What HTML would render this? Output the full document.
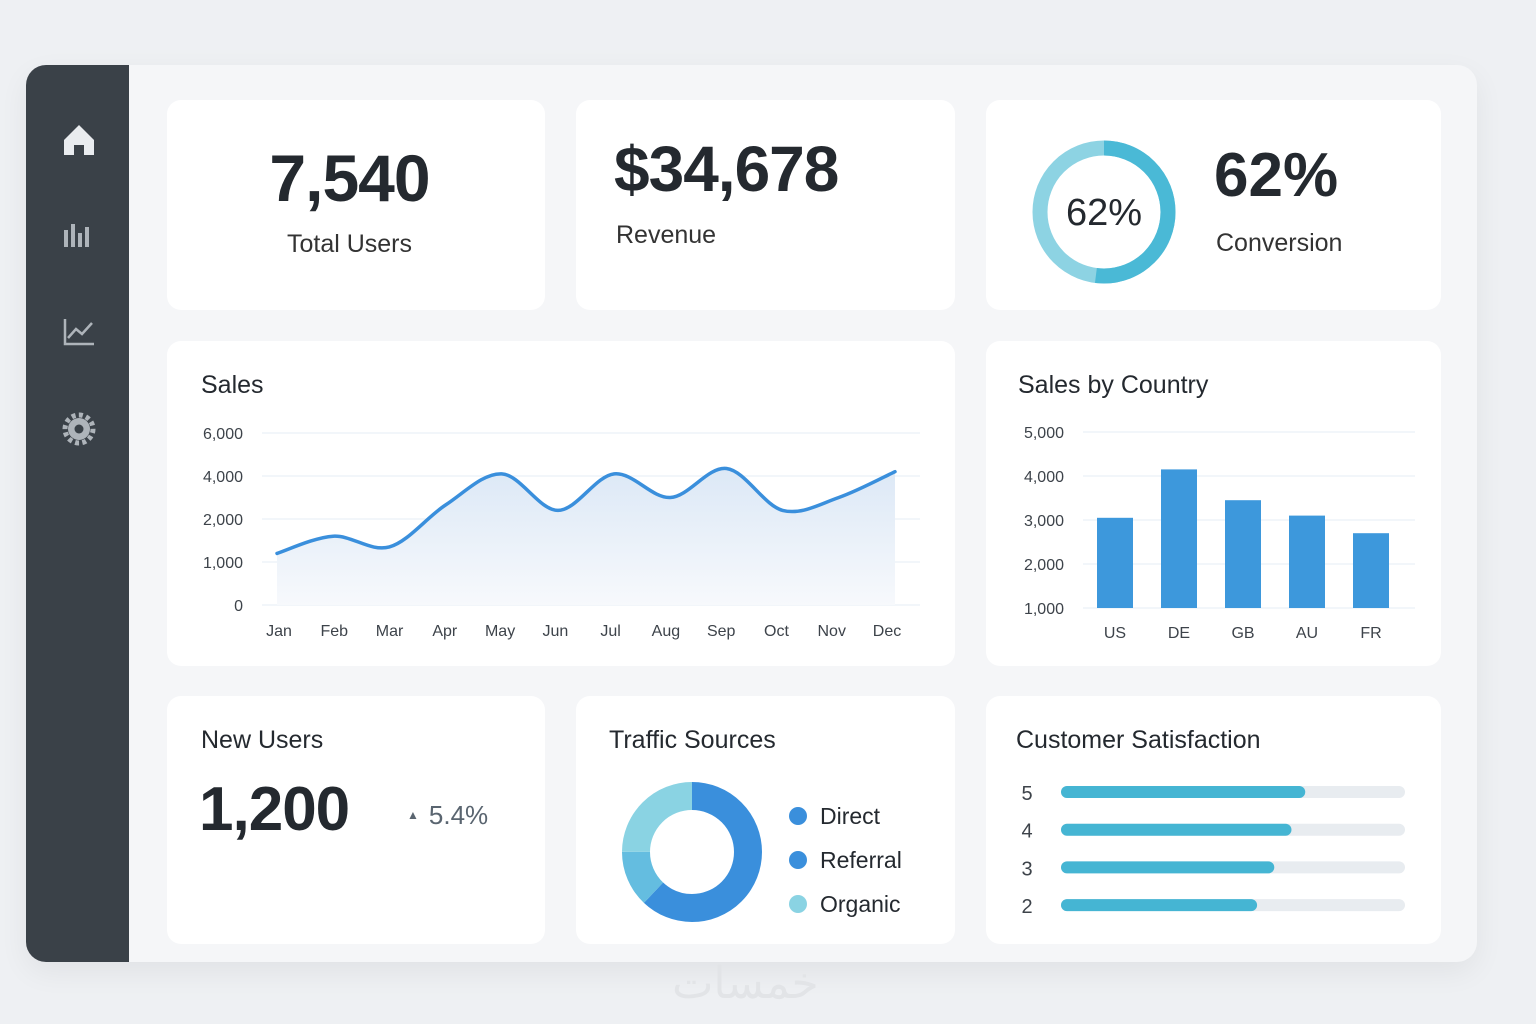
<!DOCTYPE html>
<html><head><meta charset="utf-8">
<style>
body{margin:0;width:1536px;height:1024px;background:#eef0f3;font-family:"Liberation Sans",sans-serif;position:relative;overflow:hidden;color:#24292f}
.abs{position:absolute}
.panel{left:26px;top:65px;width:1451px;height:897px;background:#f5f6f8;border-radius:20px;box-shadow:0 10px 30px rgba(0,0,0,0.06);overflow:hidden}
.side{left:0;top:0;width:103px;height:897px;background:#3a4148}
.card{background:#fff;border-radius:14px;position:absolute}
.t{position:absolute;white-space:nowrap}
</style></head><body>
<div class="abs panel">
 <div class="abs side">
  <svg width="103" height="897">
   <g><path d="M38 75 L53 60 L68 75 L68 90 L58 90 L58 80 L48 80 L48 90 L38 90 Z" fill="#e9ecef"/></g>
   <g fill="#aeb4ba"><rect x="38" y="165" width="4" height="17"/><rect x="45" y="159" width="4" height="23"/><rect x="52" y="168" width="4" height="14"/><rect x="59" y="162" width="4" height="20"/></g>
   <g fill="none" stroke="#aeb4ba" stroke-width="2.5"><path d="M39 254 V279 H68"/><path d="M42 273 L50 264 L56 269 L66 258"/></g>
   <g><circle cx="53" cy="364" r="11" fill="#aeb4ba"/><circle cx="53" cy="364" r="14" fill="none" stroke="#aeb4ba" stroke-width="5" stroke-dasharray="4 3.3"/><circle cx="53" cy="364" r="4.5" fill="#3a4148"/></g>
  </svg>
 </div>
</div>

<div class="card" style="left:167px;top:100px;width:378px;height:210px">
 <div class="t" style="left:0;width:365px;text-align:center;top:40px;font-size:66px;font-weight:bold;letter-spacing:-1px">7,540</div>
 <div class="t" style="left:0;width:365px;text-align:center;top:130px;font-size:25px;color:#333">Total Users</div>
</div>
<div class="card" style="left:576px;top:100px;width:379px;height:210px">
 <div class="t" style="left:38px;top:32px;font-size:64px;font-weight:bold;letter-spacing:-1px">$34,678</div>
 <div class="t" style="left:40px;top:121px;font-size:25px;color:#333">Revenue</div>
</div>
<div class="card" style="left:986px;top:100px;width:455px;height:210px">
 <div class="t" style="left:228px;top:40px;font-size:62px;font-weight:bold">62%</div>
 <div class="t" style="left:230px;top:129px;font-size:25px;color:#333">Conversion</div>
</div>
<div class="card" style="left:167px;top:341px;width:788px;height:325px">
 <div class="t" style="left:34px;top:30px;font-size:25px">Sales</div>
</div>
<div class="card" style="left:986px;top:341px;width:455px;height:325px">
 <div class="t" style="left:32px;top:30px;font-size:25px">Sales by Country</div>
</div>
<div class="card" style="left:167px;top:696px;width:378px;height:248px">
 <div class="t" style="left:34px;top:30px;font-size:25px">New Users</div>
 <div class="t" style="left:32px;top:78px;font-size:62px;font-weight:bold;letter-spacing:-1px">1,200</div>
 <div class="t" style="left:240px;top:104px;font-size:26px;color:#5a6570"><span style="font-size:12px;vertical-align:5px;margin-right:10px">▲</span>5.4%</div>
</div>
<div class="card" style="left:576px;top:696px;width:379px;height:248px">
 <div class="t" style="left:33px;top:30px;font-size:25px">Traffic Sources</div>
</div>
<div class="card" style="left:986px;top:696px;width:455px;height:248px">
 <div class="t" style="left:30px;top:30px;font-size:25px">Customer Satisfaction</div>
</div>
<div class="t" style="left:672px;top:958px;font-size:44px;color:#e2e4e7;font-family:'Liberation Sans','Noto Sans CJK SC',sans-serif">خمسات</div>

<svg id="ov" class="abs" style="left:0;top:0" width="1536" height="1024">
 <defs><linearGradient id="ag" x1="0" y1="0" x2="0" y2="1"><stop offset="0" stop-color="#dce8f6"/><stop offset="1" stop-color="#f7f9fc"/></linearGradient></defs>
</svg>
<script>
const salesMonths=["Jan","Feb","Mar","Apr","May","Jun","Jul","Aug","Sep","Oct","Nov","Dec"];
const salesValues=[1200,1600,1350,2650,4100,2400,4100,3000,4350,2400,3000,4200];
const salesTicks=[0,1000,2000,4000,6000];
const countries=["US","DE","GB","AU","FR"];
const countrySales=[3050,4150,3450,3100,2700];
const countryTicks=[1000,2000,3000,4000,5000];
const trafficLabels=["Direct","Referral","Organic"];
const trafficShares=[62,13,25];
const trafficColors=["#3a8fdc","#64bde0","#8ad3e3"];
const satisfactionLevels=["5","4","3","2"];
const satisfactionScores=[71,67,62,57];
const conversionArc=[52,48];

const NS="http://www.w3.org/2000/svg",svg=document.getElementById('ov');
function mk(tag,attrs,parent){const e=document.createElementNS(NS,tag);for(const k in attrs)e.setAttribute(k,attrs[k]);(parent||svg).appendChild(e);return e;}
function txt(x,y,s,size,fill,anchor){const e=mk('text',{x:x,y:y,'font-size':size,fill:fill,'text-anchor':anchor||'start','font-family':'Liberation Sans, sans-serif'});e.textContent=s;return e;}

(function(){const cx=1104,cy=212,r=64,C=2*Math.PI*r;
 const bg=mk('circle',{cx:cx,cy:cy,r:r,fill:'none',stroke:'#8dd3e3','stroke-width':15});
 
 const tot=conversionArc[0]+conversionArc[1];
 const a=mk('circle',{cx:cx,cy:cy,r:r,fill:'none',stroke:'#4ab9d6','stroke-width':15,'stroke-dasharray':(C*conversionArc[0]/tot)+' '+C,transform:`rotate(-90 ${cx} ${cy})`});
 
 const t=txt(cx,cy+13,'62%',38,'#24292f','middle');
 
})();

(function(){const x0=277,x1=895,gx0=262,gx1=920,yb=605,step=43,lx0=279,lx1=887;
 function yOf(v){for(let i=0;i<salesTicks.length-1;i++){if(v<=salesTicks[i+1]){return yb-step*(i+(v-salesTicks[i])/(salesTicks[i+1]-salesTicks[i]));}}return yb-step*(salesTicks.length-1);}
 function xOf(i){return x0+(x1-x0)*i/(salesMonths.length-1);}
 function lxOf(i){return lx0+(lx1-lx0)*i/(salesMonths.length-1);}
 salesTicks.forEach((v,i)=>{const y=yb-step*i;
  const l=mk('line',{x1:gx0,x2:gx1,y1:y,y2:y,stroke:'#e6edf5','stroke-width':1});
  
  const t=txt(243,y+6,v.toLocaleString('en-US'),16,'#3d434a','end');
  });
 const pts=salesValues.map((v,i)=>[xOf(i),yOf(v)]);
 let d='M'+pts[0][0]+' '+pts[0][1];
 for(let i=0;i<pts.length-1;i++){const p0=pts[i-1]||pts[i],p1=pts[i],p2=pts[i+1],p3=pts[i+2]||p2;
  d+=` C${p1[0]+(p2[0]-p0[0])/6} ${p1[1]+(p2[1]-p0[1])/6} ${p2[0]-(p3[0]-p1[0])/6} ${p2[1]-(p3[1]-p1[1])/6} ${p2[0]} ${p2[1]}`;}
 const area=mk('path',{d:d+` L${pts[pts.length-1][0]} ${yb} L${pts[0][0]} ${yb} Z`,fill:'url(#ag)'});
 
 const line=mk('path',{d:d,fill:'none',stroke:'#3a8fdc','stroke-width':3.5,'stroke-linecap':'round'});
 
 salesMonths.forEach((m,i)=>{const t=txt(lxOf(i),636,m,16,'#3d434a','middle');
  });
})();

(function(){const yb=608,step=44,gx0=1083,gx1=1415,cx0=1115,dx=64,bw=36;
 const yOf=v=>yb-step*(v-countryTicks[0])/1000;
 countryTicks.forEach(v=>{const y=yOf(v);
  const l=mk('line',{x1:gx0,x2:gx1,y1:y,y2:y,stroke:'#e6edf5','stroke-width':1});
  
  const t=txt(1064,y+6,v.toLocaleString('en-US'),16,'#3d434a','end');
  });
 countries.forEach((c,i)=>{const x=cx0+dx*i,y=yOf(countrySales[i]);
  const b=mk('rect',{x:x-bw/2,y:y,width:bw,height:yb-y,fill:'#3d98dc'});
  
  const t=txt(x,638,c,16,'#3d434a','middle');
  });
})();

(function(){const cx=692,cy=852,r=56,sw=28,C=2*Math.PI*r;const tot=trafficShares.reduce((a,b)=>a+b,0);let acc=0;
 trafficShares.forEach((v,i)=>{const len=C*v/tot;
  const s=mk('circle',{cx:cx,cy:cy,r:r,fill:'none',stroke:trafficColors[i],'stroke-width':sw,'stroke-dasharray':len+' '+C,'stroke-dashoffset':-acc,transform:`rotate(-90 ${cx} ${cy})`});
  acc+=len;
  const y=816+44*i;
  const dot=mk('circle',{cx:798,cy:y,r:9,fill:i===2?'#8ad3e3':'#3a8fdc'});
  
  const t=txt(820,y+8,trafficLabels[i],23,'#24292f');
  });
})();

(function(){const x0=1061,w=344,h=12;
 satisfactionLevels.forEach((lv,i)=>{const y=792+37.7*i;
  const t=txt(1027,y+8,lv,20,'#3d434a','middle');
  
  const tr=mk('rect',{x:x0,y:y-h/2,width:w,height:h,rx:6,fill:'#e8ecf0'});
  
  const f=mk('rect',{x:x0,y:y-h/2,width:w*satisfactionScores[i]/100,height:h,rx:6,fill:'#45b5d3'});
  });
})();
</script>
</body></html>
